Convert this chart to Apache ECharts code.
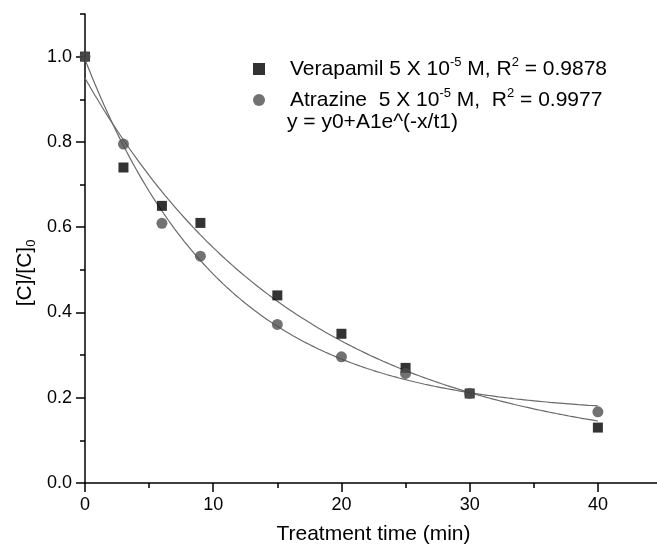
<!DOCTYPE html>
<html>
<head>
<meta charset="utf-8">
<script src="https://cdn.jsdelivr.net/npm/echarts@6/dist/echarts.min.js"></script>
<style>
  html, body { margin: 0; padding: 0; background: #fff; }
  #chart { width: 657px; height: 550px; }
</style>
</head>
<body>
<div id="chart"></div>
<script>
// Sampling times (min)
const times = [0, 3, 6, 9, 15, 20, 25, 30, 40];
// Relative concentration [C]/[C]0
const verapamil = [1.0, 0.74, 0.65, 0.61, 0.44, 0.35, 0.27, 0.21, 0.13];
const atrazine  = [1.0, 0.795, 0.609, 0.532, 0.372, 0.296, 0.257, 0.21, 0.167];

// Axis ticks
const xMajorTicks = [0, 10, 20, 30, 40];
const xMinorTicks = [5, 15, 25, 35];
const yMajorTicks = [0, 0.2, 0.4, 0.6, 0.8, 1.0];
const yMinorTicks = [0.1, 0.3, 0.5, 0.7, 0.9, 1.1];

// Least-squares fit of y = y0 + A1*exp(-x/t1): scan t1, solve y0/A1 linearly
function fitExpDecay(xs, ys) {
  let best = null;
  for (let t = 1; t <= 80; t += 0.01) {
    const e = xs.map(x => Math.exp(-x / t));
    const n = xs.length;
    let se = 0, sy = 0, see = 0, sey = 0;
    for (let i = 0; i < n; i++) { se += e[i]; sy += ys[i]; see += e[i] * e[i]; sey += e[i] * ys[i]; }
    const A = (n * sey - se * sy) / (n * see - se * se);
    const y0 = (sy - A * se) / n;
    let sse = 0;
    for (let i = 0; i < n; i++) { const r = ys[i] - (y0 + A * e[i]); sse += r * r; }
    if (!best || sse < best.sse) best = { y0, A, t, sse };
  }
  return best;
}

function fitCurve(xs, ys) {
  const p = fitExpDecay(xs, ys);
  const pts = [];
  const xEnd = xs[xs.length - 1];
  for (let x = 0; x <= xEnd + 1e-9; x += 0.25) {
    pts.push([x, p.y0 + p.A * Math.exp(-x / p.t)]);
  }
  return pts;
}

const pairs = (xs, ys) => xs.map((x, i) => [x, ys[i]]);

const FONT = '"Liberation Sans", Arial, sans-serif';
const chart = echarts.init(document.getElementById('chart'), null, { renderer: 'canvas' });

const supRich = {
  sup: { fontSize: 13, verticalAlign: 'top', lineHeight: 26, fontFamily: FONT, color: '#000' }
};

chart.setOption({
  animation: false,
  backgroundColor: '#fff',
  grid: { left: 85, right: -5, top: 14, bottom: 67, containLabel: false, outerBoundsMode: 'none' },
  xAxis: [
    {
      type: 'value', min: 0, max: 45, position: 'bottom',
      axisLine: { show: true, onZero: false, lineStyle: { color: '#000', width: 1.5 } },
      axisTick: { show: true, customValues: xMajorTicks, length: 9, lineStyle: { color: '#000', width: 1.5 } },
      axisLabel: { customValues: xMajorTicks, margin: 13, fontSize: 18, color: '#000', fontFamily: FONT },
      splitLine: { show: false },
      name: 'Treatment time (min)', nameLocation: 'middle', nameGap: 41,
      nameTextStyle: { fontSize: 21, color: '#000', fontFamily: FONT }
    },
    {
      type: 'value', min: 0, max: 45, position: 'bottom', offset: 0,
      axisLine: { show: false },
      axisTick: { show: true, customValues: xMinorTicks, length: 5, lineStyle: { color: '#000', width: 1.5 } },
      axisLabel: { show: false },
      splitLine: { show: false }
    }
  ],
  yAxis: [
    {
      type: 'value', min: 0, max: 1.1, position: 'left',
      axisLine: { show: true, onZero: false, lineStyle: { color: '#000', width: 1.5 } },
      axisTick: { show: true, customValues: yMajorTicks, length: 9, lineStyle: { color: '#000', width: 1.5 } },
      axisLabel: { customValues: yMajorTicks, margin: 13, fontSize: 18, color: '#000', fontFamily: FONT,
                   formatter: v => v.toFixed(1) },
      splitLine: { show: false }
    },
    {
      type: 'value', min: 0, max: 1.1, position: 'left', offset: 0,
      axisLine: { show: false },
      axisTick: { show: true, customValues: yMinorTicks, length: 5, lineStyle: { color: '#000', width: 1.5 } },
      axisLabel: { show: false },
      splitLine: { show: false }
    }
  ],
  legend: {
    orient: 'vertical', left: 248, top: 51, itemGap: 5,
    itemWidth: 12, itemHeight: 12,
    data: [
      { name: 'Verapamil', icon: 'rect', itemStyle: { color: '#000' } },
      { name: 'Atrazine', icon: 'circle', itemStyle: { color: '#4f4f4f' } }
    ],
    formatter: name => name === 'Verapamil'
      ? 'Verapamil 5 X 10{sup|-5} M, R{sup|2} = 0.9878'
      : 'Atrazine  5 X 10{sup|-5} M,  R{sup|2} = 0.9977',
    textStyle: { fontSize: 21, color: '#000', fontFamily: FONT, lineHeight: 26,
                 padding: [0, 0, 0, 20], rich: supRich }
  },
  graphic: [
    {
      type: 'text', left: 287, top: 112,
      style: { text: 'y = y0+A1e^(-x/t1)', fontSize: 21, fill: '#000', fontFamily: FONT }
    },
    {
      type: 'text', x: 25, y: 273, rotation: Math.PI / 2,
      style: {
        text: '[C]/[C]{sub|0}', fontSize: 21, fill: '#000', fontFamily: FONT,
        align: 'center', verticalAlign: 'middle', lineHeight: 26,
        rich: { sub: { fontSize: 13, verticalAlign: 'bottom', lineHeight: 26, fontFamily: FONT, fill: '#000' } }
      }
    }
  ],
  series: [
    {
      name: 'Verapamil fit', type: 'line', showSymbol: false, symbol: 'none', silent: true,
      data: fitCurve(times, verapamil), z: 1,
      lineStyle: { color: '#6a6a6a', width: 1.2 }
    },
    {
      name: 'Atrazine fit', type: 'line', showSymbol: false, symbol: 'none', silent: true,
      data: fitCurve(times, atrazine), z: 1,
      lineStyle: { color: '#6a6a6a', width: 1.2 }
    },
    {
      name: 'Verapamil', type: 'scatter', symbol: 'rect', symbolSize: 10, z: 3,
      data: pairs(times, verapamil), itemStyle: { color: '#000' }
    },
    {
      name: 'Atrazine', type: 'scatter', symbol: 'circle', symbolSize: 11, z: 4,
      data: pairs(times, atrazine), itemStyle: { color: '#4f4f4f' }
    }
  ]
});
</script>
</body>
</html>
